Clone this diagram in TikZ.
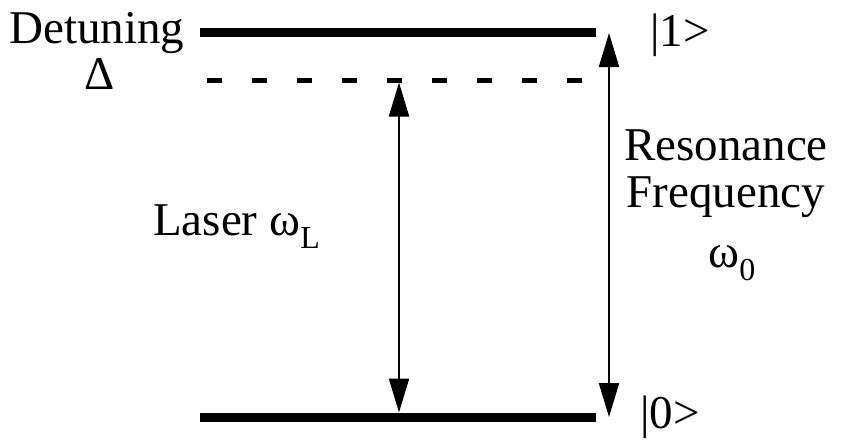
\documentclass[tikz,border=0pt]{standalone}
\usepackage{fontspec}
\setmainfont{Liberation Serif}
\usetikzlibrary{arrows.meta}
\tikzset{
  lbl/.style={inner sep=0pt, font=\rmfamily\fontsize{47}{47}\selectfont},
  level/.style={line width=9pt},
  virt/.style={line width=5pt, dash pattern=on 15pt off 30pt},
  trans/.style={line width=2pt, {Triangle[length=34pt,width=20pt]}-{Triangle[length=34pt,width=20pt]}}
}
\newcommand{\subsc}[1]{\raisebox{-13pt}{\fontsize{32}{32}\selectfont #1}}
\begin{document}
\begin{tikzpicture}[x=1pt,y=-1pt]
\useasboundingbox (0,0) rectangle (842,444);
% levels
\coordinate (t1) at (200,33);
\coordinate (t2) at (596,33);
\coordinate (d1) at (207,80);
\coordinate (d2) at (600,80);
\coordinate (b1) at (200,417);
\coordinate (b2) at (596,417);
\draw[level] (t1) -- (t2);
\draw[level] (b1) -- (b2);
\draw[virt] (d1) -- (d2);
% arrows
\coordinate (la) at (399,82.5);
\coordinate (lb) at (399,412.5);
\coordinate (ra) at (609,33);
\coordinate (rb) at (609,417);
\draw[trans] (la) -- (lb);
\draw[trans] (ra) -- (rb);
% labels
\node[lbl, anchor=base west] (det) at (9,44) {Detuning};
\node[lbl, anchor=base] (delta) at (100,89) {Δ};
\node[lbl, anchor=base west] (k1) at (650,46) {|1>};
\node[lbl, anchor=base west] (k0) at (640,428) {|0>};
\node[lbl, anchor=base west] (laser) at (153,235) {Laser ω\subsc{L}};
\node[lbl, anchor=base] (res) at (726,160) {Resonance};
\node[lbl, anchor=base] (freq) at (726,207) {Frequency};
\node[lbl, anchor=base] (w0) at (732,267) {ω\subsc{0}};
\end{tikzpicture}
\end{document}
